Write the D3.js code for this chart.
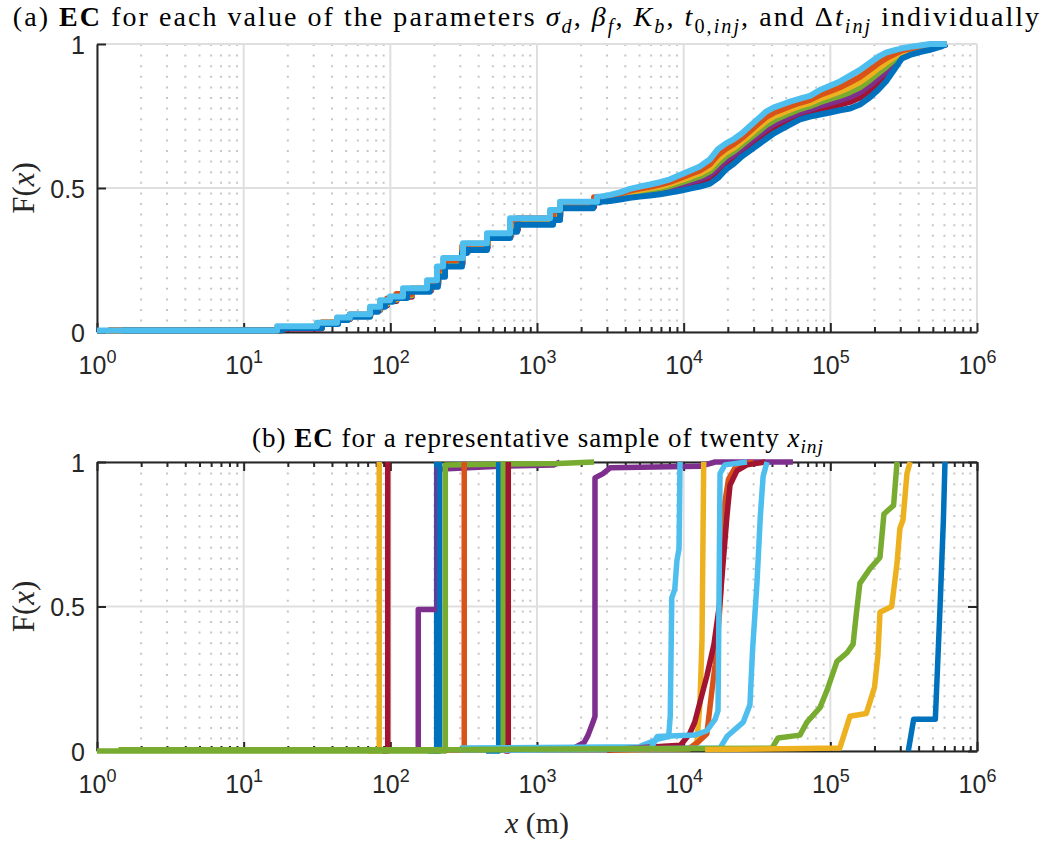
<!DOCTYPE html>
<html>
<head>
<meta charset="utf-8">
<script src="https://cdn.jsdelivr.net/npm/d3@7"></script>
<style>
  body { margin: 0; background: #fff; }
  svg { display: block; }
</style>
</head>
<body>
<svg id="chart" width="1044" height="842"></svg>
<script>
// ---- data: panel (a), ECDFs per parameter value ----
// upper part: shared positions (x in m) where the fine steps are read
const aHighX = [2688, 3147, 3680, 4305, 5035, 5890, 6900, 8070, 9440, 11040, 12910, 15130, 17150, 19450, 22030, 24990, 28330, 32120, 36400, 41300, 46870, 53090, 62090, 72610, 84920, 99500, 116400, 136200, 159200, 186300, 211200, 239400, 271500, 307800, 349000, 408200, 477400, 559500, 624000];

const aBlueX = [1.48, 18.3, 34.2, 44, 51.5, 72.7, 82.4, 92, 104, 130, 186, 211, 236, 308, 333, 456, 655, 731, 1285, 1435, 2410];
const aBlueF = [0.005, 0.014, 0.028, 0.042, 0.053, 0.07, 0.088, 0.105, 0.118, 0.14, 0.157, 0.192, 0.227, 0.274, 0.285, 0.326, 0.348, 0.372, 0.389, 0.43, 0.45,
  0.452, 0.455, 0.46, 0.466, 0.47, 0.474, 0.478, 0.484, 0.49, 0.498, 0.505, 0.515, 0.535, 0.565, 0.585, 0.61, 0.63, 0.65, 0.67, 0.69, 0.705, 0.72, 0.738, 0.748, 0.755, 0.762, 0.77, 0.776, 0.79, 0.815, 0.84, 0.87, 0.91, 0.95, 0.962, 0.972, 0.98, 0.99, 1];

const aLightBlueX = [1, 16.9, 31.6, 43.3, 53, 72.7, 85, 99.5, 122, 178, 208, 229, 313, 456, 655, 1227, 1435, 2565];
const aLightBlueF = [0.005, 0.02, 0.032, 0.05, 0.062, 0.088, 0.11, 0.123, 0.152, 0.18, 0.227, 0.257, 0.308, 0.343, 0.395, 0.424, 0.452, 0.47,
  0.47, 0.476, 0.485, 0.497, 0.505, 0.512, 0.52, 0.53, 0.545, 0.56, 0.575, 0.6, 0.635, 0.655, 0.67, 0.69, 0.715, 0.74, 0.765, 0.78, 0.79, 0.8, 0.81, 0.82, 0.84, 0.855, 0.87, 0.89, 0.91, 0.935, 0.955, 0.97, 0.978, 0.985, 0.99, 0.995, 1, 1, 1];

const aMidX = [1.2, 18, 34, 44, 53, 73, 85, 95, 110, 140, 190, 212, 236, 310, 340, 460, 660, 740, 1290, 1440, 2450];
const aRedF = [0.005, 0.012, 0.03, 0.045, 0.057, 0.076, 0.093, 0.108, 0.122, 0.145, 0.165, 0.2, 0.235, 0.28, 0.292, 0.33, 0.355, 0.378, 0.4, 0.435, 0.455,
  0.455, 0.459, 0.465, 0.472, 0.477, 0.482, 0.486, 0.493, 0.501, 0.51, 0.519, 0.532, 0.555, 0.583, 0.602, 0.626, 0.647, 0.668, 0.689, 0.708, 0.722, 0.736, 0.752, 0.762, 0.772, 0.781, 0.79, 0.799, 0.814, 0.839, 0.863, 0.89, 0.924, 0.957, 0.968, 0.977, 0.984, 0.992, 1];
const aPurpleF = [0.005, 0.013, 0.031, 0.046, 0.058, 0.078, 0.095, 0.11, 0.125, 0.147, 0.168, 0.205, 0.24, 0.285, 0.296, 0.333, 0.36, 0.383, 0.405, 0.44, 0.458,
  0.458, 0.462, 0.469, 0.477, 0.482, 0.487, 0.493, 0.5, 0.509, 0.52, 0.53, 0.545, 0.57, 0.597, 0.615, 0.638, 0.66, 0.682, 0.703, 0.722, 0.735, 0.748, 0.763, 0.773, 0.785, 0.795, 0.805, 0.816, 0.832, 0.857, 0.88, 0.905, 0.934, 0.962, 0.972, 0.98, 0.987, 0.994, 1];
const aGreenF = [0.005, 0.014, 0.032, 0.047, 0.059, 0.08, 0.097, 0.112, 0.128, 0.149, 0.171, 0.21, 0.245, 0.29, 0.3, 0.336, 0.365, 0.388, 0.41, 0.445, 0.46,
  0.46, 0.465, 0.472, 0.481, 0.488, 0.493, 0.499, 0.507, 0.518, 0.529, 0.54, 0.558, 0.585, 0.61, 0.628, 0.65, 0.673, 0.695, 0.718, 0.735, 0.748, 0.76, 0.774, 0.784, 0.798, 0.809, 0.82, 0.833, 0.85, 0.875, 0.898, 0.92, 0.944, 0.968, 0.976, 0.984, 0.99, 0.995, 1];
const aYellowF = [0.005, 0.015, 0.032, 0.048, 0.06, 0.082, 0.1, 0.114, 0.13, 0.15, 0.174, 0.215, 0.248, 0.295, 0.304, 0.338, 0.375, 0.392, 0.415, 0.45, 0.465,
  0.462, 0.468, 0.476, 0.486, 0.493, 0.499, 0.505, 0.514, 0.526, 0.538, 0.551, 0.57, 0.6, 0.624, 0.64, 0.662, 0.685, 0.709, 0.732, 0.749, 0.76, 0.772, 0.785, 0.795, 0.81, 0.822, 0.835, 0.85, 0.868, 0.893, 0.915, 0.935, 0.954, 0.973, 0.98, 0.987, 0.993, 0.997, 1];
const aOrangeF = [0.005, 0.016, 0.033, 0.049, 0.061, 0.084, 0.103, 0.116, 0.132, 0.151, 0.177, 0.22, 0.25, 0.3, 0.306, 0.34, 0.385, 0.395, 0.42, 0.45, 0.468,
  0.465, 0.471, 0.48, 0.491, 0.498, 0.504, 0.512, 0.521, 0.534, 0.548, 0.561, 0.583, 0.615, 0.637, 0.653, 0.674, 0.698, 0.722, 0.746, 0.762, 0.773, 0.784, 0.796, 0.806, 0.823, 0.836, 0.85, 0.867, 0.886, 0.911, 0.932, 0.95, 0.964, 0.978, 0.984, 0.991, 0.996, 0.998, 1];

// ---- data: panel (b), twenty injection points, [x, F] ----
const bYellowA = [[70, 0], [84, 0], [84, 1]];
const bRedA = [[88, 0], [96, 0], [96, 1]];
const bPurpleA = [[155, 0], [155, 0.49], [209, 0.49], [209, 0.975], [550, 0.985], [1300, 0.99], [1435, 1]];
const bBlueA = [[180, 0], [207, 0], [207, 1]];
const bBlueA2 = [[200, 0], [217, 0], [217, 1]];
const bGreenA = [[1, 0], [237, 0], [237, 0.99], [1400, 0.995], [2450, 1]];
const bOrangeA = [[236, 0.004], [319, 0.004], [319, 1]];
const bBlueB = [[450, 0], [548, 0], [548, 1]];
const bGreenB = [[1.4, 0.004], [589, 0.004], [589, 1]];
const bRedB = [[600, 0], [637, 0], [637, 1]];
const bPurpleB = [[1700, 0.005], [2100, 0.03], [2230, 0.055], [2410, 0.1], [2485, 0.12], [2485, 0.945], [2820, 0.96], [3150, 0.98], [12900, 0.985], [16400, 1], [55600, 1]];
const bLightBlueA = [[300, 0.01], [5000, 0.015], [6600, 0.04], [7900, 0.05], [8100, 0.12], [8300, 0.53], [8700, 0.56], [9000, 0.66], [9300, 0.7], [9440, 1]];
const bYellowB = [[3700, 0.004], [11000, 0.008], [12300, 0.03], [12900, 0.16], [13330, 0.38], [13500, 0.66], [13700, 1]];
const bOrangeB = [[3000, 0.003], [11000, 0.01], [12500, 0.03], [14400, 0.06], [15500, 0.2], [16400, 0.3], [17700, 0.5], [18500, 0.7], [19100, 0.86], [20200, 0.94], [23000, 0.99], [30000, 1]];
const bRedC = [[3000, 0.004], [9500, 0.02], [11000, 0.06], [11900, 0.1], [14400, 0.26], [16100, 0.37], [17700, 0.52], [19700, 0.81], [20700, 0.92], [23100, 0.97], [27000, 0.99], [36000, 1]];
const bLightBlueB = [[300, 0.005], [6000, 0.01], [6600, 0.05], [11900, 0.055], [14400, 0.07], [16400, 0.11], [17150, 0.14], [17400, 0.5], [17700, 0.96], [19100, 0.99], [27000, 1]];
const bLightBlueC = [[600, 0.003], [17700, 0.01], [19700, 0.05], [25500, 0.1], [28300, 0.16], [29500, 0.35], [31600, 0.58], [33300, 0.81], [34800, 0.95], [37000, 1]];
const bGreenC = [[300, 0.005], [40000, 0.01], [44000, 0.045], [62000, 0.055], [69300, 0.1], [85000, 0.15], [94900, 0.21], [111000, 0.31], [130000, 0.34], [143000, 0.37], [150000, 0.47], [159000, 0.58], [186000, 0.63], [218000, 0.67], [232000, 0.82], [270000, 0.85], [285000, 1]];
const bYellowC = [[14000, 0.005], [116000, 0.01], [136000, 0.12], [176000, 0.13], [200000, 0.22], [211000, 0.33], [218000, 0.48], [262000, 0.5], [285000, 0.65], [298000, 0.77], [313000, 0.8], [333000, 0.96], [350000, 1]];
const bBlueC = [[340000, 0], [370000, 0.11], [520000, 0.11], [560000, 0.5], [590000, 0.8], [605000, 1]];

// ticks
const decades = [1, 10, 100, 1000, 10000, 100000, 1000000];
const yTicks = [0, 0.5, 1];

const C = { blue: '#0072BD', orange: '#D95319', yellow: '#EDB120', purple: '#7E2F8E', green: '#77AC30', lightBlue: '#4DBEEE', red: '#A2142F' };
const zip = (xs, fs) => xs.map((v, i) => [v, fs[i]]);

const seriesA = [
  { d: zip(aMidX.concat(aHighX), aRedF), c: C.red },
  { d: zip(aMidX.concat(aHighX), aPurpleF), c: C.purple },
  { d: zip(aMidX.concat(aHighX), aGreenF), c: C.green },
  { d: zip(aMidX.concat(aHighX), aYellowF), c: C.yellow },
  { d: zip(aMidX.concat(aHighX), aOrangeF), c: C.orange },
  { d: zip(aBlueX.concat(aHighX), aBlueF), c: C.blue },
  { d: zip(aLightBlueX.concat(aHighX), aLightBlueF), c: C.lightBlue }
];
const seriesB = [
  { d: bYellowA, c: C.yellow }, { d: bRedA, c: C.red }, { d: bBlueA, c: C.blue }, { d: bPurpleA, c: C.purple },
  { d: bBlueA2, c: C.blue }, { d: bGreenA, c: C.green }, { d: bOrangeA, c: C.orange }, { d: bBlueB, c: C.blue },
  { d: bGreenB, c: C.green }, { d: bRedB, c: C.red }, { d: bPurpleB, c: C.purple }, { d: bLightBlueA, c: C.lightBlue },
  { d: bYellowB, c: C.yellow }, { d: bOrangeB, c: C.orange }, { d: bRedC, c: C.red }, { d: bLightBlueB, c: C.lightBlue },
  { d: bLightBlueC, c: C.lightBlue }, { d: bGreenC, c: C.green }, { d: bYellowC, c: C.yellow }, { d: bBlueC, c: C.blue }
];

const svg = d3.select('#chart');
const axisColor = '#262626';
const sans = 'Liberation Sans, Arial, sans-serif';
const serif = 'Liberation Serif, Times New Roman, serif';

const x = d3.scaleLog().domain([1, 1e6]).range([97, 977]);
const minors = [];
decades.slice(0, -1).forEach(d => { for (let k = 2; k < 10; k++) minors.push(d * k); });

// rich text with bold/italic/subscript runs
function rich(text, parts, fs) {
  const shift = fs * 0.24;
  let inSub = false;
  parts.forEach(([s, st]) => {
    const t = text.append('tspan').text(s);
    if (st.includes('b')) t.attr('font-weight', 'bold');
    if (st.includes('i')) t.attr('font-style', 'italic');
    const sub = st.includes('s');
    if (sub) t.attr('font-size', fs * 0.72);
    if (sub && !inSub) t.attr('dy', shift);
    if (!sub && inSub) t.attr('dy', -shift);
    inSub = sub;
  });
}

function panel(p) {
  const y = d3.scaleLinear().domain([0, 1]).range([p.bottom, p.top]);
  const g = svg.append('g');

  // grid
  g.selectAll('.minor').data(minors).join('line')
    .attr('x1', d => x(d)).attr('x2', d => x(d))
    .attr('y1', p.top).attr('y2', p.bottom)
    .attr('stroke', '#c6c6c6').attr('stroke-width', 2)
    .attr('stroke-dasharray', '2,8.6');
  g.selectAll('.vmajor').data(decades).join('line')
    .attr('x1', d => x(d)).attr('x2', d => x(d))
    .attr('y1', p.top).attr('y2', p.bottom)
    .attr('stroke', '#dfdfdf').attr('stroke-width', 2);
  g.selectAll('.hmajor').data(yTicks).join('line')
    .attr('x1', 97).attr('x2', 977)
    .attr('y1', d => y(d)).attr('y2', d => y(d))
    .attr('stroke', '#dfdfdf').attr('stroke-width', 2);

  // axes
  const styleAxis = sel => {
    sel.selectAll('path, line').attr('stroke', axisColor).attr('stroke-width', 2);
    sel.attr('font-family', sans).attr('font-size', 25);
    sel.selectAll('text').attr('fill', axisColor);
  };
  const noDomain = sel => sel.select('.domain').remove();

  g.append('g').attr('transform', `translate(0,${p.bottom})`)
    .call(d3.axisBottom(x).tickValues(minors).tickSize(-5).tickFormat(''))
    .call(noDomain).call(styleAxis);
  const xa = g.append('g').attr('transform', `translate(0,${p.bottom})`)
    .call(d3.axisBottom(x).tickValues(decades).tickSize(-9).tickSizeOuter(0).tickPadding(24).tickFormat(() => '10'))
    .call(styleAxis);
  xa.selectAll('text').append('tspan')
    .attr('dy', -11).attr('font-size', 18).text(d => Math.round(Math.log10(d)));

  g.append('g').attr('transform', 'translate(97,0)')
    .call(d3.axisLeft(y).tickValues(yTicks).tickSize(-9).tickSizeOuter(0).tickPadding(12).tickFormat(d => d))
    .call(styleAxis)
    .selectAll('text').attr('dy', '0.36em');

  if (p.box) {
    g.append('g').attr('transform', `translate(0,${p.top})`)
      .call(d3.axisTop(x).tickValues(minors).tickSize(-5).tickFormat(''))
      .call(noDomain).call(styleAxis);
    g.append('g').attr('transform', `translate(0,${p.top})`)
      .call(d3.axisTop(x).tickValues(decades).tickSize(-9).tickSizeOuter(0).tickFormat(''))
      .call(styleAxis);
    g.append('g').attr('transform', 'translate(977,0)')
      .call(d3.axisRight(y).tickValues(yTicks).tickSize(-9).tickSizeOuter(0).tickFormat(''))
      .call(styleAxis);
  }

  // ECDF lines: distinct stairs below p.split, fine (near-continuous) steps above it
  const stairs = d3.line().x(d => x(d[0])).y(d => y(d[1])).curve(d3.curveStepAfter);
  const smooth = d3.line().x(d => x(d[0])).y(d => y(d[1]));
  const pathOf = s => {
    if (!p.split) return smooth(s.d);
    const lo = s.d.filter(d => d[0] <= p.split);
    const hi = s.d.filter(d => d[0] >= p.split);
    return stairs(lo) + smooth(hi);
  };
  g.selectAll('.ecdf').data(p.series).join('path')
    .attr('d', pathOf)
    .attr('fill', 'none')
    .attr('stroke', s => s.c)
    .attr('stroke-width', p.lw)
    .attr('stroke-linejoin', 'round');

  // y label
  const yl = svg.append('text')
    .attr('transform', `translate(34,${(p.top + p.bottom) / 2}) rotate(-90)`)
    .attr('text-anchor', 'middle')
    .attr('font-family', serif).attr('font-size', 31).attr('fill', axisColor);
  rich(yl, [['F(', ''], ['x', 'i'], [')', '']], 31);
}

panel({ top: 44, bottom: 332, box: false, series: seriesA, split: 2688, lw: 6 });
panel({ top: 462, bottom: 751, box: true, series: seriesB, lw: 5.5 });

// titles
const t1 = svg.append('text').attr('x', 527).attr('y', 26).attr('text-anchor', 'middle')
  .attr('font-family', serif).attr('font-size', 28).attr('letter-spacing', 2.05).attr('fill', '#000');
rich(t1, [['(a) ', ''], ['EC', 'b'], [' for each value of the parameters ', ''], ['σ', 'i'], ['d', 'is'], [', ', ''],
  ['β', 'i'], ['f', 'is'], [', ', ''], ['K', 'i'], ['b', 'is'], [', ', ''], ['t', 'i'], ['0,', 's'], ['inj', 'is'],
  [', and Δ', ''], ['t', 'i'], ['inj', 'is'], [' individually', '']], 28);

const t2 = svg.append('text').attr('x', 538).attr('y', 447).attr('text-anchor', 'middle')
  .attr('font-family', serif).attr('font-size', 27).attr('letter-spacing', 1.0).attr('fill', '#000');
rich(t2, [['(b) ', ''], ['EC', 'b'], [' for a representative sample of twenty ', ''], ['x', 'i'], ['inj', 'is']], 27);

const xl = svg.append('text').attr('x', 537).attr('y', 833).attr('text-anchor', 'middle')
  .attr('font-family', serif).attr('font-size', 30).attr('fill', axisColor);
rich(xl, [['x', 'i'], [' (m)', '']], 30);
</script>
</body>
</html>
